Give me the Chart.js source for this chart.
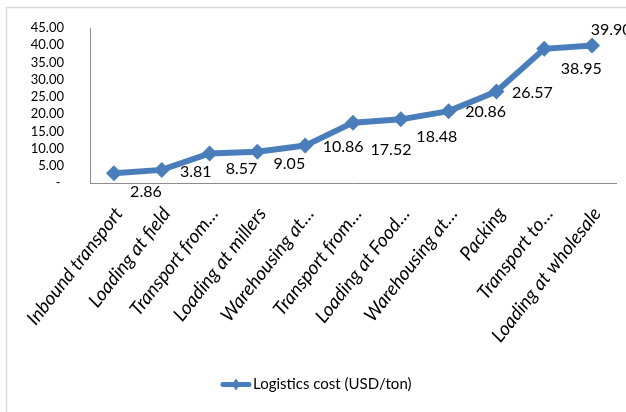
<!DOCTYPE html>
<html>
<head>
<meta charset="utf-8">
<script src="https://cdn.jsdelivr.net/npm/chart.js@4.4.1/dist/chart.umd.min.js"></script>
<style>
  html, body { margin: 0; padding: 0; background: #fff; }
  #wrap { width: 626px; height: 412px; position: relative; }
</style>
</head>
<body>
<div id="wrap"><canvas id="costChart"></canvas></div>
<script>
const stages = [
  "Inbound transport",
  "Loading at field",
  "Transport from…",
  "Loading at millers",
  "Warehousing at…",
  "Transport from…",
  "Loading at Food…",
  "Warehousing at…",
  "Packing",
  "Transport to…",
  "Loading at wholesale",
];

const logisticsCost = [2.86, 3.81, 8.57, 9.05, 10.86, 17.52, 18.48, 20.86, 26.57, 38.95, 39.9];

const yTicks = [0, 5, 10, 15, 20, 25, 30, 35, 40, 45];

// value labels sit to the lower right of each marker
const labelShift = [
  [32, 19], [34, 2], [32, 15], [32, 12], [38, 1], [38, 27],
  [36, 17], [37, 1], [36, 1], [37, 20], [19, -16],
];

const palette = {
  line: "#4a7ebb",
  axis: "#8c8c8c",
  frame: "#d9d9d9",
  ink: "#000000",
};

const fontFamily = "Lato, 'Open Sans', sans-serif";
const legendFontSize = 15;
const legendBoxWidth = 41;

const framePlugin = {
  id: "frame",
  beforeDraw(chart) {
    const ctx = chart.ctx;
    ctx.save();
    ctx.strokeStyle = palette.frame;
    ctx.lineWidth = 1.5;
    ctx.strokeRect(6.5, 7.5, 700, 500);
    ctx.restore();
  },
};

const valueLabels = {
  id: "valueLabels",
  afterDatasetsDraw(chart) {
    const ctx = chart.ctx;
    const meta = chart.getDatasetMeta(0);
    ctx.save();
    ctx.font = `16px ${fontFamily}`;
    ctx.fillStyle = palette.ink;
    ctx.textAlign = "center";
    ctx.textBaseline = "middle";
    meta.data.forEach((point, i) => {
      const [dx, dy] = labelShift[i];
      ctx.fillText(logisticsCost[i].toFixed(2), point.x + dx, point.y + dy);
    });
    ctx.restore();
  },
};

// legend swatch: a short thick line with a diamond, butting up to the text
const legendMarker = {
  id: "legendMarker",
  afterDraw(chart) {
    const box = chart.legend.legendHitBoxes[0];
    if (!box) return;
    const ctx = chart.ctx;
    const textX = box.left + legendBoxWidth + legendFontSize / 2;
    const cy = box.top + box.height / 2;
    const x0 = textX - 32;
    const x1 = textX - 2;
    const cx = (x0 + x1) / 2;
    ctx.save();
    ctx.strokeStyle = palette.line;
    ctx.lineWidth = 5;
    ctx.lineCap = "round";
    ctx.beginPath();
    ctx.moveTo(x0 + 2, cy);
    ctx.lineTo(x1 - 2, cy);
    ctx.stroke();
    ctx.fillStyle = palette.line;
    ctx.beginPath();
    ctx.moveTo(cx, cy - 6);
    ctx.lineTo(cx + 4, cy);
    ctx.lineTo(cx, cy + 6);
    ctx.lineTo(cx - 4, cy);
    ctx.closePath();
    ctx.fill();
    ctx.restore();
  },
};

new Chart(document.getElementById("costChart"), {
  type: "line",
  data: {
    labels: stages,
    datasets: [
      {
        label: "Logistics cost (USD/ton)",
        data: logisticsCost,
        borderColor: palette.line,
        backgroundColor: palette.line,
        borderWidth: 6,
        pointStyle: "rectRot",
        pointRadius: 8,
        pointHoverRadius: 8,
        pointBackgroundColor: palette.line,
        pointBorderWidth: 0,
        tension: 0,
      },
    ],
  },
  options: {
    responsive: true,
    maintainAspectRatio: false,
    animation: false,
    layout: { padding: { left: 0, right: 10, top: 28, bottom: 10 } },
    plugins: {
      tooltip: { enabled: false },
      legend: {
        position: "bottom",
        labels: {
          color: palette.ink,
          font: { family: fontFamily, size: legendFontSize },
          boxWidth: legendBoxWidth,
          boxHeight: 5,
          padding: 10,
          generateLabels(chart) {
            return [{
              text: chart.data.datasets[0].label,
              fillStyle: "rgba(0,0,0,0)",
              strokeStyle: "rgba(0,0,0,0)",
              lineWidth: 0,
              datasetIndex: 0,
            }];
          },
        },
      },
    },
    scales: {
      x: {
        offset: true,
        grid: { display: false },
        border: { display: true, color: palette.axis, width: 1 },
        ticks: {
          color: palette.ink,
          font: { family: fontFamily, size: 19, style: "italic" },
          minRotation: 52,
          maxRotation: 52,
          autoSkip: false,
          padding: 12,
          labelOffset: 5,
        },
        afterFit(scale) {
          scale.height = 184;
        },
      },
      y: {
        min: 0,
        max: 45,
        afterBuildTicks(scale) {
          scale.ticks = yTicks.map((v) => ({ value: v }));
        },
        grid: { display: false },
        border: { display: true, color: palette.axis, width: 1 },
        ticks: {
          color: palette.ink,
          font: { family: fontFamily, size: 13 },
          padding: 18,
          autoSkip: false,
          callback(value) {
            return value === 0 ? "- " : value.toFixed(2);
          },
        },
        afterFit(scale) {
          scale.width = 90;
        },
      },
    },
  },
  plugins: [framePlugin, valueLabels, legendMarker],
});
</script>
</body>
</html>
